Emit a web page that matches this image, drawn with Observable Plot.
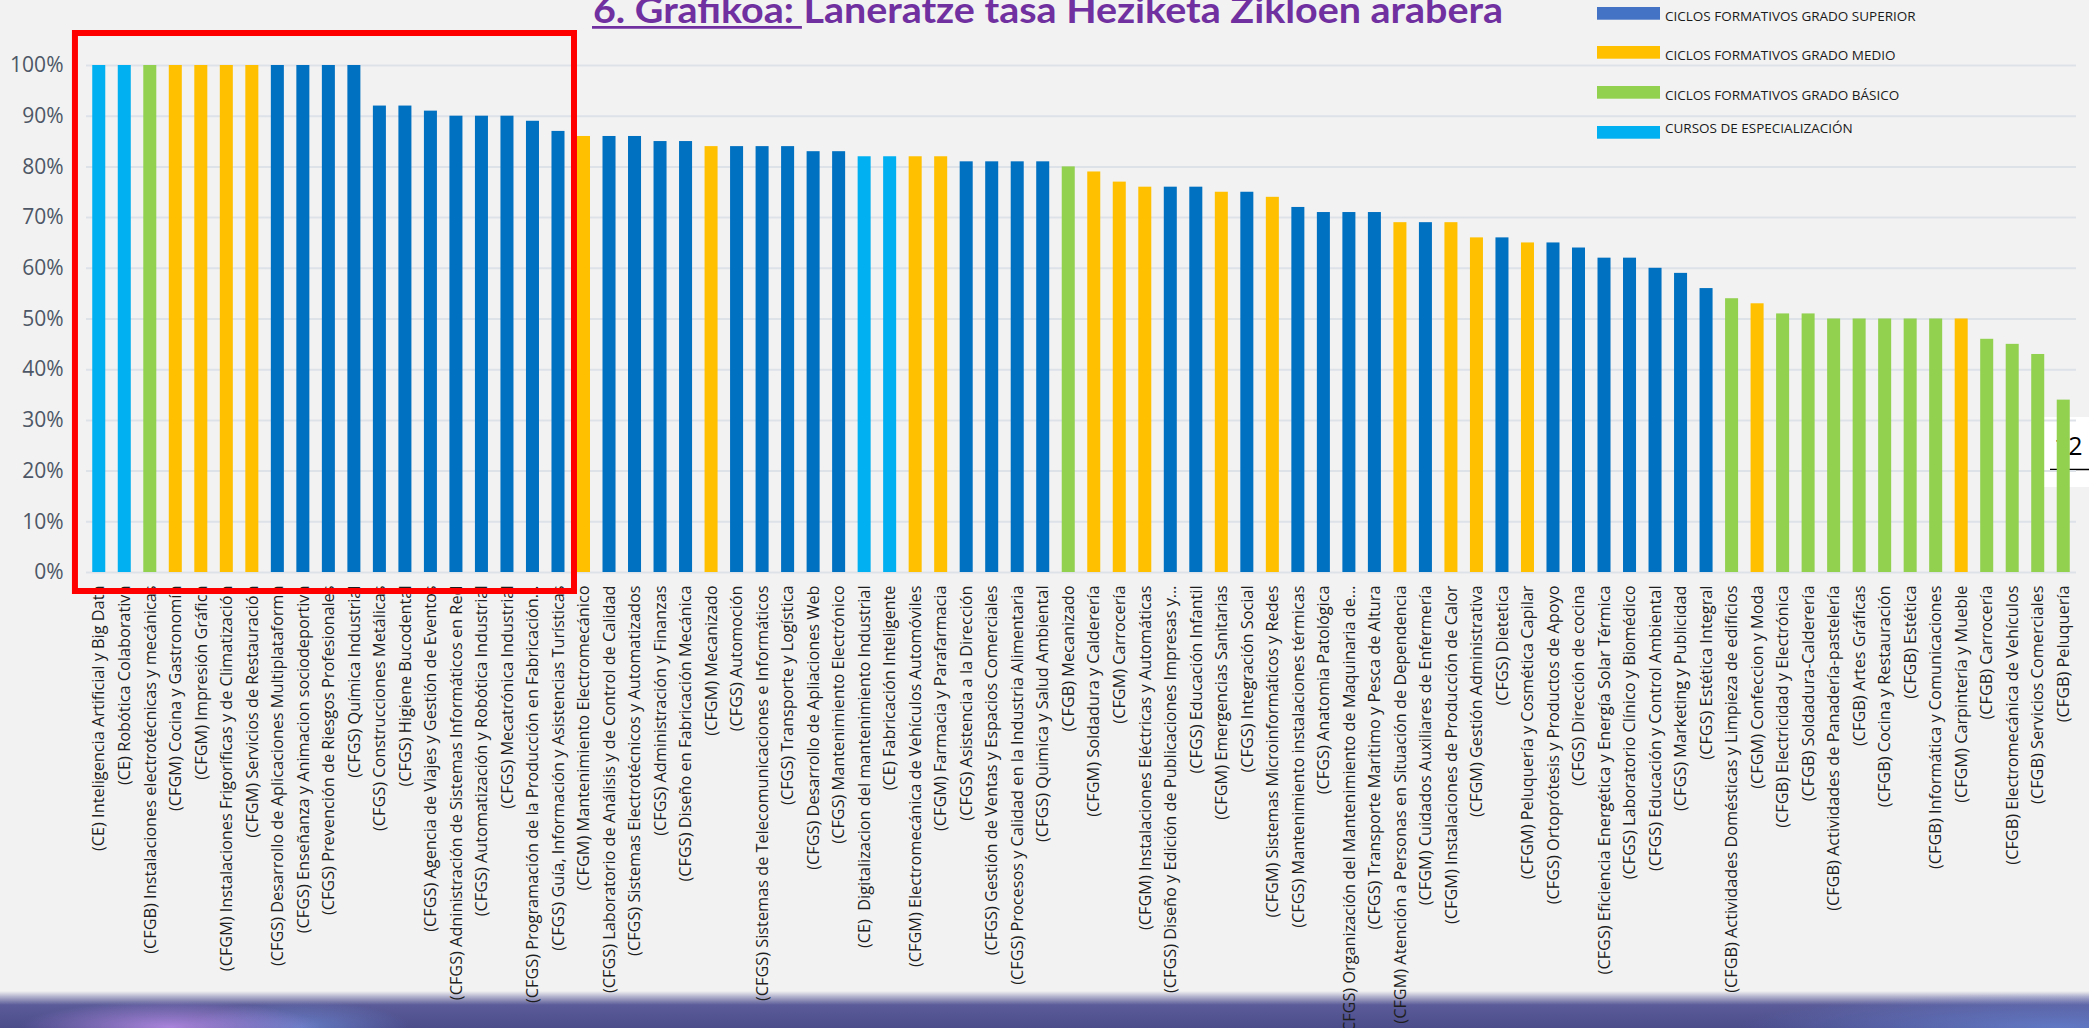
<!DOCTYPE html>
<html>
<head>
<meta charset="utf-8">
<script src="https://cdn.jsdelivr.net/npm/d3@7"></script>
<script src="https://cdn.jsdelivr.net/npm/@observablehq/plot@0.6"></script>
<style>
  html, body { margin: 0; padding: 0; background: #f2f2f2; }
  #page { position: relative; width: 2089px; height: 1028px; overflow: hidden; background: #f2f2f2; }
  #band {
    position: absolute; left: 0; top: 985px; width: 2089px; height: 43px;
    background:
      radial-gradient(ellipse 150px 26px at 170px 42px, rgba(200,150,245,0.75), rgba(200,150,245,0) 100%),
      radial-gradient(ellipse 110px 26px at 300px 42px, rgba(120,160,240,0.55), rgba(120,160,240,0) 100%),
      radial-gradient(ellipse 320px 34px at 2060px 42px, rgba(105,135,215,0.75), rgba(105,135,215,0) 100%),
      linear-gradient(180deg, #f2f2f2 0px, #f2f2f2 6px, #aeaecb 12px, #5a5b98 20px, #4b4c8a 43px);
  }
  #pagebox { position: absolute; left: 2043px; top: 417px; width: 46px; height: 70px; background: #ffffff; }
  #under { position: absolute; left: 0; top: 0; }
  #chart { position: absolute; left: 0; top: 0; }
  #overlay { position: absolute; left: 0; top: 0; pointer-events: none; }
</style>
</head>
<body>
<div id="page">
  <div id="band"></div>
  <div id="pagebox"></div>
  <svg id="under" width="2089" height="1028"></svg>
  <div id="chart"></div>
  <svg id="overlay" width="2089" height="1028"></svg>
</div>
<script>
// ---------- data ----------
const labels = [
  "(CE) Inteligencia Artificial y Big Data",
  "(CE) Robótica Colaborativa",
  "(CFGB) Instalaciones electrotécnicas y mecánicas",
  "(CFGM) Cocina y Gastronomía",
  "(CFGM) Impresión Gráfica",
  "(CFGM) Instalaciones Frigoríficas y de Climatización",
  "(CFGM) Servicios de Restauración",
  "(CFGS) Desarrollo de Aplicaciones Multiplataforma",
  "(CFGS) Enseñanza y Animacion sociodeportiva",
  "(CFGS) Prevención de Riesgos Profesionales",
  "(CFGS) Química Industrial",
  "(CFGS) Construcciones Metálicas",
  "(CFGS) Higiene Bucodental",
  "(CFGS) Agencia de Viajes y Gestión de Eventos",
  "(CFGS) Adninistración de Sistemas Informáticos en Red",
  "(CFGS) Automatización y Robótica Industrial",
  "(CFGS) Mecatrónica Industrial",
  "(CFGS) Programación de la Producción en Fabricación…",
  "(CFGS) Guía, Información y Asistencias Turísticas",
  "(CFGM) Mantenimiento Electromecánico",
  "(CFGS) Laboratorio de Análisis y de Control de Calidad",
  "(CFGS) Sistemas Electrotécnicos y Automatizados",
  "(CFGS) Administración y Finanzas",
  "(CFGS) Diseño en Fabricación Mecánica",
  "(CFGM) Mecanizado",
  "(CFGS) Automoción",
  "(CFGS) Sistemas de Telecomunicaciones e Informáticos",
  "(CFGS) Transporte y Logística",
  "(CFGS) Desarrollo de Apliaciones Web",
  "(CFGS) Mantenimiento Electrónico",
  "(CE)  Digitalizacion del mantenimiento Industrial",
  "(CE) Fabricación Inteligente",
  "(CFGM) Electromecánica de Vehículos Automóviles",
  "(CFGM) Farmacia y Parafarmacia",
  "(CFGS) Asistencia a la Dirección",
  "(CFGS) Gestión de Ventas y Espacios Comerciales",
  "(CFGS) Procesos y Calidad en la Industria Alimentaria",
  "(CFGS) Quimica y Salud Ambiental",
  "(CFGB) Mecanizado",
  "(CFGM) Soldadura y Calderería",
  "(CFGM) Carrocería",
  "(CFGM) Instalaciones Eléctricas y Automáticas",
  "(CFGS) Diseño y Edición de Publicaciones Impresas y…",
  "(CFGS) Educación Infantil",
  "(CFGM) Emergencias Sanitarias",
  "(CFGS) Integración Social",
  "(CFGM) Sistemas Microinformáticos y Redes",
  "(CFGS) Mantenimiento instalaciones térmicas",
  "(CFGS) Anatomia Patológica",
  "(CFGS) Organización del Mantenimiento de Maquinaria de…",
  "(CFGS) Transporte Marítimo y Pesca de Altura",
  "(CFGM) Atención a Personas en Situación de Dependencia",
  "(CFGM) Cuidados Auxiliares de Enfermería",
  "(CFGM) Instalaciones de Producción de Calor",
  "(CFGM) Gestión Administrativa",
  "(CFGS) Dietetica",
  "(CFGM) Peluquería y Cosmética Capilar",
  "(CFGS) Ortoprótesis y Productos de Apoyo",
  "(CFGS) Dirección de cocina",
  "(CFGS) Eficiencia Energética y Energía Solar Térmica",
  "(CFGS) Laboratorio Clínico y Biomédico",
  "(CFGS) Educación y Control Ambiental",
  "(CFGS) Marketing y Publicidad",
  "(CFGS) Estética Integral",
  "(CFGB) Actividades Domésticas y Limpieza de edificios",
  "(CFGM) Confeccion y Moda",
  "(CFGB) Electricidad y Electrónica",
  "(CFGB) Soldadura-Calderería",
  "(CFGB) Actividades de Panadería-pastelería",
  "(CFGB) Artes Gráficas",
  "(CFGB) Cocina y Restauración",
  "(CFGB) Estética",
  "(CFGB) Informática y Comunicaciones",
  "(CFGM) Carpintería y Mueble",
  "(CFGB) Carrocería",
  "(CFGB) Electromecánica de Vehículos",
  "(CFGB) Servicios Comerciales",
  "(CFGB) Peluquería"
];

const values = [
  100, 100, 100, 100, 100, 100, 100, 100, 100, 100, 100,
  92, 92, 91, 90, 90, 90, 89, 87,
  86, 86, 86, 85, 85, 84, 84, 84, 84, 83, 83,
  82, 82, 82, 82, 81, 81, 81, 81, 80, 79,
  77, 76, 76, 76, 75, 75, 74, 72, 71, 71,
  71, 69, 69, 69, 66, 66, 65, 65, 64, 62,
  62, 60, 59, 56, 54, 53, 51, 51, 50, 50,
  50, 50, 50, 50, 46, 45, 43, 34
];

// S = grado superior, M = grado medio, B = grado básico, E = cursos de especialización
const groups = [
  "E","E","B","M","M","M","M","S","S","S","S","S","S","S","S","S","S","S","S",
  "M","S","S","S","S","M","S","S","S","S","S",
  "E","E","M","M","S","S","S","S","B","M",
  "M","M","S","S","M","S","M","S","S","S",
  "S","M","S","M","M","S","M","S","S","S",
  "S","S","S","S","B","M","B","B","B","B",
  "B","B","B","M","B","B","B","B"
];

const groupKeys   = ["S", "M", "B", "E"];
const groupColors = ["#0070C0", "#FFC000", "#92D050", "#00B0F0"];

const legendLabels = [
  "CICLOS FORMATIVOS GRADO SUPERIOR",
  "CICLOS FORMATIVOS GRADO MEDIO",
  "CICLOS FORMATIVOS GRADO BÁSICO",
  "CURSOS DE ESPECIALIZACIÓN"
];
const legendColors = ["#4472C4", "#FFC000", "#92D050", "#00B0F0"];

const yTicks = [0, 10, 20, 30, 40, 50, 60, 70, 80, 90, 100];
const highlightCount = 19;

const titleMain = "6. Grafikoa";
const titleRest = ": Laneratze tasa Heziketa Zikloen arabera";
const pageNumber = "12";

// ---------- chart ----------
const data = labels.map((label, i) => ({label, value: values[i], group: groups[i]}));

const chart = Plot.plot({
  width: 2089,
  height: 1028,
  marginTop: 65,
  marginBottom: 456,
  marginLeft: 86,
  marginRight: 13,
  style: {background: "transparent", fontFamily: "'Open Sans', sans-serif", overflow: "visible"},
  x: {domain: labels, paddingInner: 0.49, paddingOuter: 0.245, label: null},
  y: {domain: [0, 100], label: null},
  color: {domain: groupKeys, range: groupColors},
  marks: [
    Plot.gridY(yTicks, {stroke: "#dde1e8", strokeOpacity: 1, strokeWidth: 2}),
    Plot.barY(data, {x: "label", y: "value", fill: "group"}),
    Plot.axisY(yTicks, {
      tickSize: 0, tickPadding: 23, fontSize: 21, fill: "#4d5766",
      tickFormat: d => d + "%", label: null
    }),
    Plot.axisX({
      tickSize: 0, tickPadding: 13, tickRotate: -90, fontSize: 16.3, fill: "#1e1e1e",
      textAnchor: "end", label: null
    })
  ]
});
document.getElementById("chart").appendChild(chart);

// red highlight box around the first bars
const xs = chart.scale("x"), ys = chart.scale("y");
const bx0 = xs.apply(labels[0]) - 17.3;
const bx1 = xs.apply(labels[highlightCount - 1]) + xs.bandwidth + 9.5;
const by0 = ys.apply(100) - 32;
const by1 = ys.apply(0) + 19;
d3.select(chart).append("rect")
  .attr("x", bx0).attr("y", by0)
  .attr("width", bx1 - bx0).attr("height", by1 - by0)
  .attr("fill", "none").attr("stroke", "#FF0000").attr("stroke-width", 6);

// ---------- page number behind chart ----------
const under = d3.select("#under");
under.append("text")
  .attr("x", 2054).attr("y", 455)
  .attr("font-family", "'Open Sans', sans-serif").attr("font-size", 25).attr("fill", "#000")
  .text(pageNumber);
under.append("line")
  .attr("x1", 2050).attr("x2", 2089).attr("y1", 469.5).attr("y2", 469.5)
  .attr("stroke", "#000").attr("stroke-width", 1.5);

// ---------- overlay: title + legend ----------
const overlay = d3.select("#overlay");
const title = overlay.append("text")
  .attr("x", 593).attr("y", 22.7)
  .attr("font-family", "Lato, 'Open Sans', sans-serif")
  .attr("font-weight", 700).attr("font-size", 36).attr("fill", "#7030A0");
const t1 = title.append("tspan").text(titleMain);
title.append("tspan").text(titleRest);
const natural = title.node().getComputedTextLength();
const targetW = 910;
title.attr("textLength", targetW).attr("lengthAdjust", "spacingAndGlyphs");
const subW = t1.node().getComputedTextLength() * (targetW / natural);
overlay.append("line")
  .attr("x1", 592).attr("x2", 593 + subW)
  .attr("y1", 27.3).attr("y2", 27.3)
  .attr("stroke", "#7030A0").attr("stroke-width", 2.7);

const legendTops = [7, 46, 86, 126];
const legendBase = [21, 60, 100, 133];
legendLabels.forEach((lab, i) => {
  overlay.append("rect")
    .attr("x", 1597).attr("y", legendTops[i]).attr("width", 63).attr("height", 12.7)
    .attr("fill", legendColors[i]);
  overlay.append("text")
    .attr("x", 1665).attr("y", legendBase[i])
    .attr("font-family", "'Open Sans', sans-serif").attr("font-size", 13.5).attr("fill", "#1a1a1a")
    .text(lab);
});
</script>
</body>
</html>
